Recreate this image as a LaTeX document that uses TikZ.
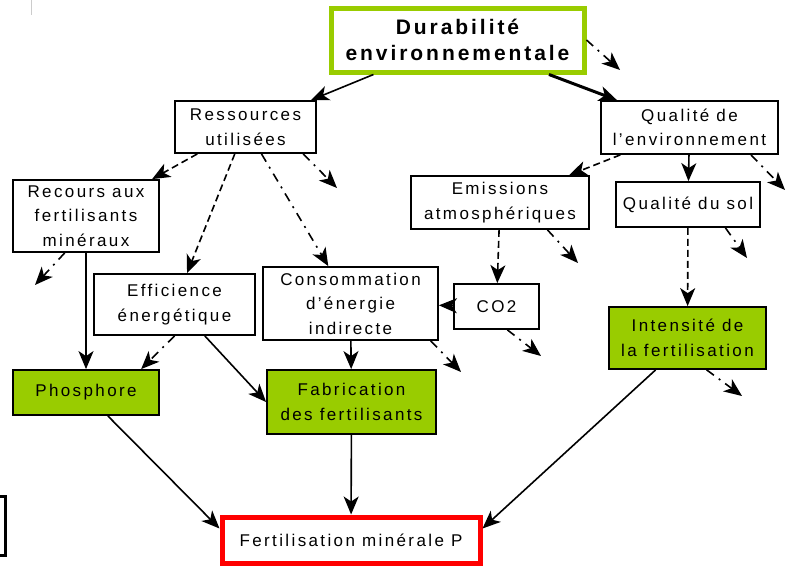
\documentclass[tikz,border=0pt]{standalone}
\usepackage{fontspec}
\setmainfont{Liberation Sans}[LetterSpace=14]
\usetikzlibrary{arrows.meta}
\definecolor{leaf}{RGB}{153,204,0}
\begin{document}
\begin{tikzpicture}[x=1pt,y=-1pt,
  box/.style={draw,line width=1.8pt,align=center,inner sep=0pt,font=\fontsize{17}{24.5}\selectfont},
  leafbox/.style={box,fill=leaf},
  link/.style={line width=1.6pt,-{Stealth[length=18pt,width=15pt,inset=5pt]}},
  dashlink/.style={link,dash pattern=on 7pt off 4pt},
  dotlink/.style={link,dash pattern=on 9pt off 6pt on 2pt off 6pt}]
\useasboundingbox (0,0) rectangle (792,565);
\node [box,draw=leaf,line width=5pt,minimum width=253,minimum height=64,font=\fontsize{21}{26}\selectfont\bfseries] (durab) at (457.5,40) {Durabilité\\environnementale};
\node [box,minimum width=141,minimum height=52] (ress) at (245.5,127) {Ressources\\utilisées};
\node [box,minimum width=177,minimum height=53] (qenv) at (689.5,127.5) {Qualité de\\l'environnement};
\node [box,minimum width=146,minimum height=72] (recours) at (86,216) {Recours aux\\fertilisants\\minéraux};
\node [box,minimum width=178,minimum height=53] (emis) at (500,202.5) {Emissions\\atmosphériques};
\node [box,minimum width=144,minimum height=45] (qsol) at (688,204.5) {Qualité du sol};
\node [box,minimum width=161,minimum height=61] (effic) at (174.5,304.5) {Efficience\\énergétique};
\node [box,minimum width=175,minimum height=73] (conso) at (350.5,303.5) {Consommation\\d'énergie\\indirecte};
\node [box,minimum width=85,minimum height=45] (co2) at (496.5,306.5) {CO2};
\node [leafbox,minimum width=157,minimum height=62] (intens) at (687.5,338) {Intensité de\\la fertilisation};
\node [leafbox,minimum width=146,minimum height=45] (phos) at (86,392.5) {Phosphore};
\node [leafbox,minimum width=169,minimum height=64] (fabric) at (351.5,402) {Fabrication\\des fertilisants};
\node [box,draw=red,line width=5pt,minimum width=258,minimum height=46] (fertil) at (351,540) {Fertilisation minérale P};
\coordinate (durabout) at (620,70);
\coordinate (ressout) at (337,188);
\coordinate (recoursout) at (35,285);
\coordinate (qenvout) at (785,190);
\coordinate (emisout) at (578,263);
\coordinate (qsolout) at (747,258);
\coordinate (co2out) at (541,356);
\coordinate (consoout) at (461,372);
\coordinate (intensout) at (742,396);
\draw [link] (durab) -- (ress);
\draw [link,line width=3pt] (durab) -- (qenv);
\draw [dashlink] (ress) -- (recours);
\draw [dashlink] (ress) -- (effic);
\draw [dotlink] (ress) -- (conso);
\draw [dashlink] (qenv) -- (emis);
\draw [link] (qenv) -- (qsol);
\draw [dashlink] (emis) -- (co2);
\draw [dashlink] (qsol) -- (intens);
\draw [link] (co2) -- (conso);
\draw [link] (conso) -- (fabric);
\draw [link] (recours) -- (phos);
\draw [link] (effic.-46) -- (fabric.west);
\draw [dotlink] (effic.south) -- (phos.23);
\draw [link] (phos.-47) -- (fertil.175);
\draw [link] (fabric) -- (fertil);
\draw [link] (intens.-135) -- (fertil.5);
\draw [dotlink] (durab.east) -- (durabout);
\draw [dotlink] (ress.-25) -- (ressout);
\draw [dotlink] (recours.-120) -- (recoursout);
\draw [dotlink] (qenv.-24) -- (qenvout);
\draw [dotlink] (emis.-30) -- (emisout);
\draw [dotlink] (qsol.-32) -- (qsolout);
\draw [dotlink] (co2.-65) -- (co2out);
\draw [dotlink] (conso.-25) -- (consoout);
\draw [dotlink] (intens.-59) -- (intensout);
\draw [gray!40,line width=1pt] (31,0) -- (31,15);
\draw [line width=3pt] (-5,496) -- (5,496) -- (5,555) -- (-5,555);
\end{tikzpicture}
\end{document}
